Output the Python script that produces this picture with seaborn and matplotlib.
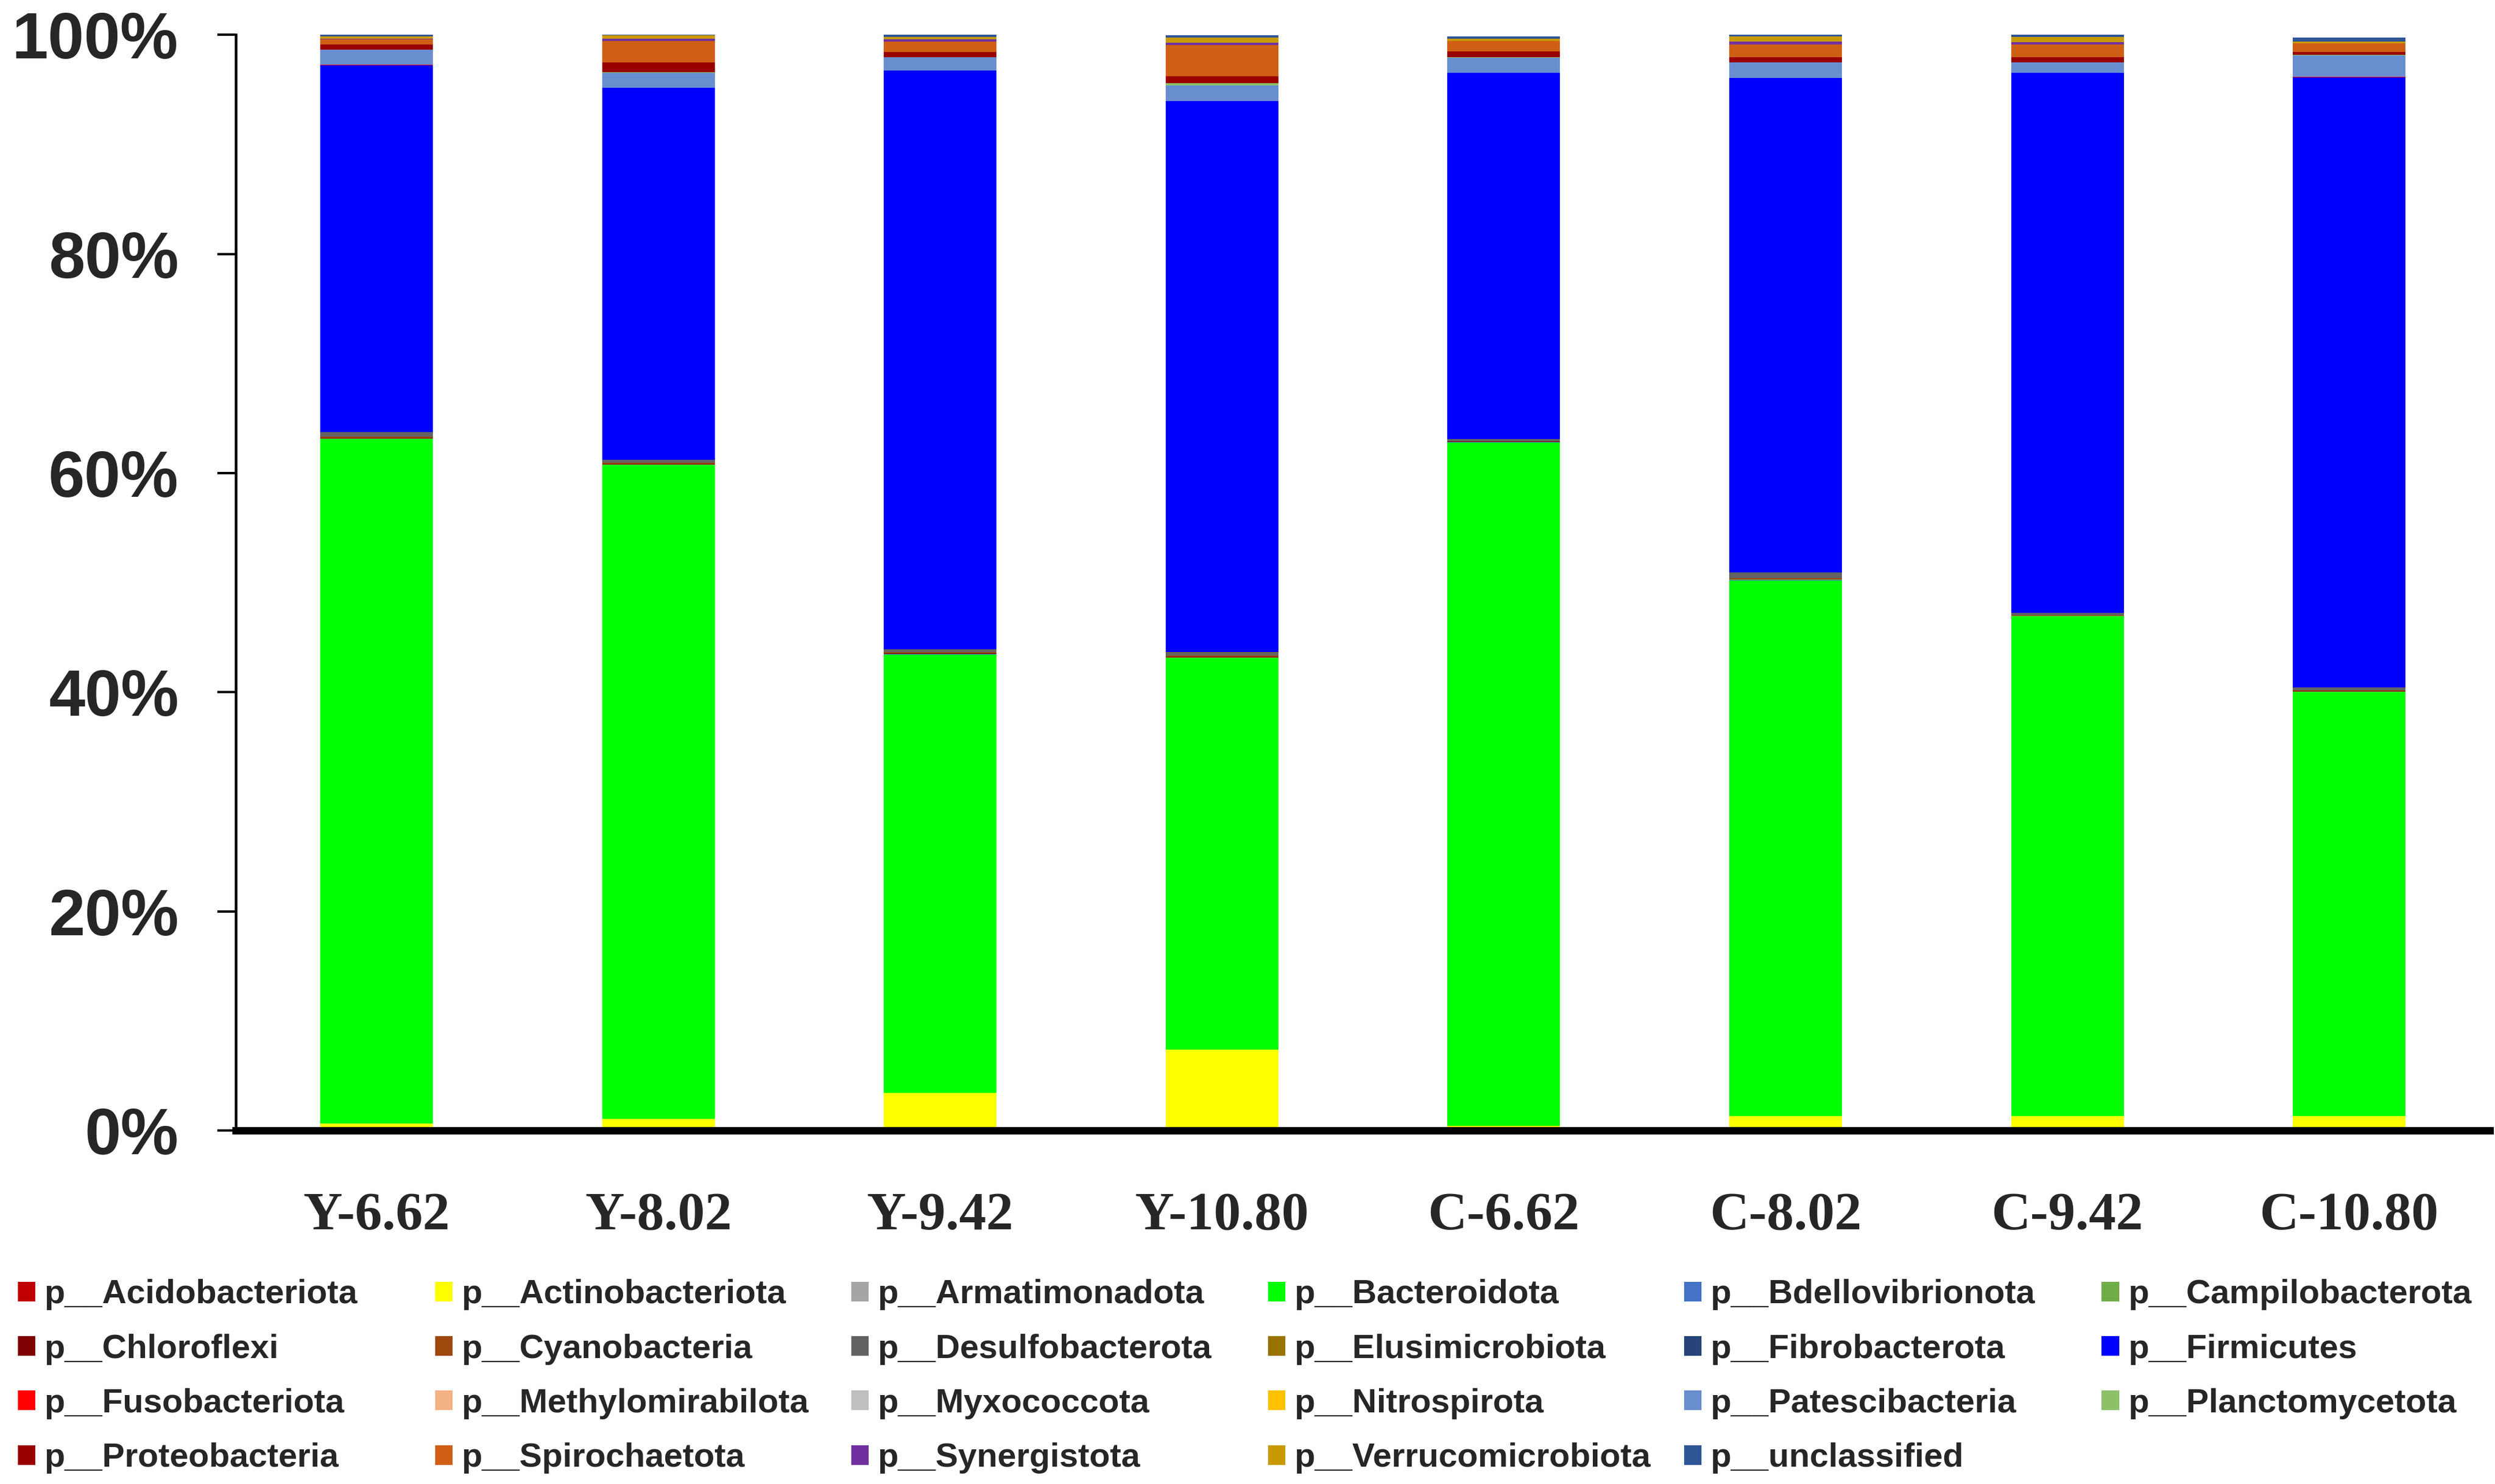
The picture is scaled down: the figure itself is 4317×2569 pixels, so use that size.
import numpy as np
import pandas as pd
import matplotlib
matplotlib.use('Agg')
import matplotlib.pyplot as plt
from matplotlib.patches import Patch
from matplotlib.ticker import PercentFormatter
import seaborn as sns

# 样本名称
samples = ['Y-6.62', 'Y-8.02', 'Y-9.42', 'Y-10.80', 'C-6.62', 'C-8.02', 'C-9.42', 'C-10.80']

# 门水平相对丰度 (%)，顺序与 samples 一致
acidobacteriota = [0.01, 0.01, 0.01, 0.01, 0.01, 0.01, 0.01, 0.01]
actinobacteriota = [0.6, 1.05, 3.4, 7.4, 0.4, 1.3, 1.3, 1.3]
armatimonadota = [0.0, 0.0, 0.0, 0.0, 0.0, 0.0, 0.0, 0.0]
bacteroidota = [62.5, 59.65, 40.05, 35.7, 62.4, 48.9, 45.6, 38.7]
bdellovibrionota = [0.01, 0.01, 0.01, 0.01, 0.01, 0.01, 0.01, 0.01]
campilobacterota = [0.05, 0.05, 0.05, 0.05, 0.03, 0.05, 0.03, 0.05]
chloroflexi = [0.05, 0.05, 0.05, 0.05, 0.03, 0.05, 0.03, 0.03]
cyanobacteria = [0.1, 0.1, 0.1, 0.1, 0.04, 0.1, 0.04, 0.07]
desulfobacterota = [0.4, 0.3, 0.25, 0.3, 0.2, 0.5, 0.2, 0.25]
elusimicrobiota = [0.01, 0.01, 0.01, 0.01, 0.01, 0.01, 0.01, 0.01]
fibrobacterota = [0.0, 0.0, 0.0, 0.0, 0.0, 0.0, 0.0, 0.0]
firmicutes = [33.5, 33.9, 52.8, 50.3, 33.4, 45.1, 49.3, 55.7]
fusobacteriota = [0.01, 0.01, 0.01, 0.01, 0.01, 0.01, 0.01, 0.01]
methylomirabilota = [0.0, 0.0, 0.0, 0.0, 0.0, 0.0, 0.0, 0.0]
myxococcota = [0.01, 0.01, 0.01, 0.01, 0.01, 0.01, 0.01, 0.01]
nitrospirota = [0.0, 0.0, 0.0, 0.0, 0.0, 0.0, 0.0, 0.0]
patescibacteria = [1.37, 1.4, 1.2, 1.4, 1.37, 1.4, 0.9, 1.97]
planctomycetota = [0.02, 0.05, 0.02, 0.23, 0.02, 0.02, 0.02, 0.05]
proteobacteria = [0.47, 0.9, 0.44, 0.65, 0.53, 0.49, 0.49, 0.28]
spirochaetota = [0.5, 1.9, 0.97, 2.85, 0.95, 1.14, 1.14, 0.74]
synergistota = [0.02, 0.23, 0.2, 0.2, 0.02, 0.26, 0.23, 0.02]
verrucomicrobiota = [0.2, 0.3, 0.23, 0.47, 0.2, 0.47, 0.47, 0.18]
unclassified = [0.2, 0.15, 0.2, 0.2, 0.2, 0.2, 0.23, 0.35]

phyla = ['p__Acidobacteriota', 'p__Actinobacteriota', 'p__Armatimonadota', 'p__Bacteroidota',
         'p__Bdellovibrionota', 'p__Campilobacterota', 'p__Chloroflexi', 'p__Cyanobacteria',
         'p__Desulfobacterota', 'p__Elusimicrobiota', 'p__Fibrobacterota', 'p__Firmicutes',
         'p__Fusobacteriota', 'p__Methylomirabilota', 'p__Myxococcota', 'p__Nitrospirota',
         'p__Patescibacteria', 'p__Planctomycetota', 'p__Proteobacteria', 'p__Spirochaetota',
         'p__Synergistota', 'p__Verrucomicrobiota', 'p__unclassified']
values = [acidobacteriota, actinobacteriota, armatimonadota, bacteroidota, bdellovibrionota,
          campilobacterota, chloroflexi, cyanobacteria, desulfobacterota, elusimicrobiota,
          fibrobacterota, firmicutes, fusobacteriota, methylomirabilota, myxococcota,
          nitrospirota, patescibacteria, planctomycetota, proteobacteria, spirochaetota,
          synergistota, verrucomicrobiota, unclassified]
colors = ['#C00000', '#FFFF00', '#A5A5A5', '#00FF00', '#4472C4', '#70AD47', '#7F0000', '#9E480E',
          '#636363', '#997300', '#264478', '#0000FF', '#FF0000', '#F4B183', '#BFBFBF', '#FFC000',
          '#698ED0', '#8CC168', '#990000', '#D05F16', '#7030A0', '#C89A00', '#2F5597']
palette = dict(zip(phyla, colors))

# 长表
rows = []
for p, v in zip(phyla, values):
    for s, val in zip(samples, v):
        rows.append({'sample': s, 'phylum': p, 'value': val / 100.0})
df = pd.DataFrame(rows)
df['sample'] = pd.Categorical(df['sample'], categories=samples, ordered=True)

sns.set_style('ticks')
plt.rcParams['font.family'] = ['Liberation Sans', 'DejaVu Sans']

fig = plt.figure(figsize=(4317 / 300, 2569 / 300), dpi=300)
ax = fig.add_axes([0.0945, 0.2382, 0.9035, 0.7384])

# 堆积柱状图 (seaborn 把 hue_order 第一个放在最上面，所以反转)
sns.histplot(data=df, x='sample', hue='phylum', weights='value', multiple='stack',
             discrete=True, shrink=0.4, hue_order=phyla[::-1], palette=palette,
             linewidth=0, edgecolor='none', alpha=1, legend=False, ax=ax)

ax.set_xlim(-0.5, 7.5)
ax.set_ylim(0, 1)
ax.set_yticks([0, 0.2, 0.4, 0.6, 0.8, 1.0])
ax.yaxis.set_major_formatter(PercentFormatter(1.0, decimals=0))
ax.set_xticks(range(len(samples)))
ax.set_xticklabels(samples)
ax.set_xlabel('')
ax.set_ylabel('')

for lbl in ax.get_xticklabels():
    lbl.set_fontfamily('Liberation Serif')
    lbl.set_fontweight('bold')
    lbl.set_fontsize(22.5)
for lbl in ax.get_yticklabels():
    lbl.set_fontfamily('Liberation Sans')
    lbl.set_fontweight('bold')
    lbl.set_fontsize(27)

ax.tick_params(axis='x', length=0, pad=25.5)
ax.tick_params(axis='y', length=7.7, width=1.0, pad=16, color='black')
ax.spines['top'].set_visible(False)
ax.spines['right'].set_visible(False)
ax.spines['left'].set_linewidth(1.1)
ax.spines['bottom'].set_linewidth(3.1)
ax.spines['left'].set_color('black')
ax.spines['bottom'].set_color('black')

# 图例：6列，按行排列
col_x = [0.0072, 0.1744, 0.3412, 0.5082, 0.675, 0.8423]
for c in range(6):
    idx = [r * 6 + c for r in range(4) if r * 6 + c < len(phyla)]
    handles = [Patch(facecolor=colors[i], edgecolor='none') for i in idx]
    labels = [phyla[i] for i in idx]
    fig.legend(handles, labels, loc='upper left', bbox_to_anchor=(col_x[c], 0.138),
               frameon=False, borderpad=0, borderaxespad=0, handlelength=0.52,
               handleheight=0.52, handletextpad=0.26, labelspacing=0.69,
               prop={'family': 'Liberation Sans', 'weight': 'bold', 'size': 14})

fig.savefig('out.png', dpi=300)
